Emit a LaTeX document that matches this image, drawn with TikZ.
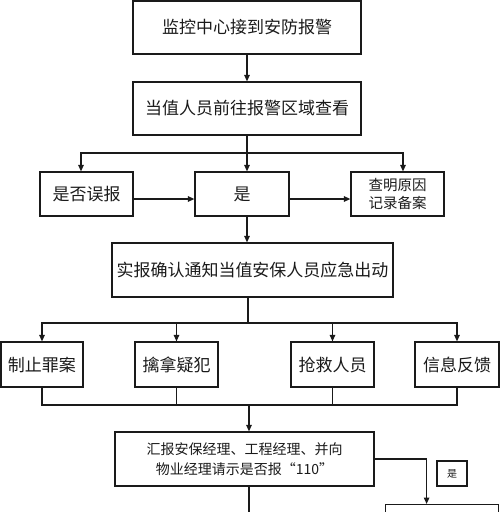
\documentclass[tikz,border=0pt]{standalone}
\usepackage{fontspec}
\newfontfamily\cjk{Noto Sans CJK SC}
\usetikzlibrary{positioning,arrows.meta,calc}
\definecolor{inkBlack}{HTML}{1a1a1a}

\begin{document}
\begin{tikzpicture}[x=1pt,y=-1pt,
  flowBox/.style={draw=inkBlack,line width=1.2pt,inner sep=2pt,align=center,
    font=\cjk\fontsize{17}{20}\selectfont,text=inkBlack},
  arr/.style={draw=inkBlack,line width=1.2pt,-{Triangle[length=6.5pt,width=5.5pt]}},
  link/.style={draw=inkBlack,line width=1.2pt}]
\useasboundingbox (0,0) rectangle (500,512);
\clip (0,0) rectangle (500,512);

% main chain
\node[flowBox,minimum width=228pt,minimum height=53pt] (alarm) at (247,27.5) {监控中心接到安防报警};
\node[flowBox,minimum width=228pt,minimum height=53pt] (patrol) at (247,108.5) {当值人员前往报警区域查看};

\node[flowBox,minimum width=93pt,minimum height=44pt] (falseAlarm) at (86.5,194) {是否误报};
\node[flowBox,minimum width=94pt,minimum height=44pt] (confirmed) at (242,194) {是};
\node[flowBox,minimum width=93pt,minimum height=44pt,
      font=\cjk\fontsize{14.5}{18}\selectfont] (recordCase) at (397.5,194) {查明原因\\记录备案};

\node[flowBox,minimum width=281pt,minimum height=54pt] (dispatch) at (252.5,270) {实报确认通知当值安保人员应急出动};

% actions
\node[flowBox,minimum width=82pt,minimum height=45pt] (stopCrime) at (42,364.5) {制止罪案};
\node[flowBox,minimum width=83pt,minimum height=45pt] (catchSuspect) at (176.5,364.5) {擒拿疑犯};
\node[flowBox,minimum width=83pt,minimum height=45pt] (rescue) at (332.5,364.5) {抢救人员};
\node[flowBox,minimum width=84pt,minimum height=45pt] (feedback) at (457,364.5) {信息反馈};

\node[flowBox,minimum width=259pt,minimum height=54pt,
      font=\cjk\fontsize{14}{20}\selectfont] (report) at (244.5,459) {汇报安保经理、工程经理、并向\\物业经理请示是否报“110”};
\node[flowBox,minimum width=30pt,minimum height=25pt,
      font=\cjk\fontsize{10}{12}\selectfont] (yesLabel) at (452,473.5) {是};
\node[flowBox,minimum width=113pt,minimum height=50pt,anchor=north west] (callPolice) at (385,504) {};

\coordinate (split1) at (247,153);
\coordinate (split2) at (248,323);
\coordinate (join) at (249,405);
\coordinate (nextStep) at (249,530);

\draw[arr] (alarm) -- (patrol);
\draw[link] (patrol.south) -- (split1);
\draw[arr] (split1) -| ([xshift=-5.5pt]falseAlarm.north);
\draw[arr] (split1) -- ([xshift=5pt]confirmed.north);
\draw[arr] (split1) -| ([xshift=5.5pt]recordCase.north);
\draw[arr] ([yshift=-5pt]falseAlarm.east) -- ([yshift=-5pt]confirmed.west);
\draw[arr] ([yshift=-5pt]confirmed.east) -- ([yshift=-5pt]recordCase.west);
\draw[arr] ([xshift=5pt]confirmed.south) -- ([xshift=5pt]confirmed.south |- dispatch.north);

\draw[link] (split2 |- dispatch.south) -- (split2);
\foreach \n in {stopCrime,catchSuspect,rescue,feedback}{
  \draw[arr] (split2) -| (\n.north);
  \draw[link] (\n.south) |- (join);
}
\draw[arr] (join) -- (join |- report.north);

\draw[arr] (report.east) -| ([xshift=-15.5pt]callPolice.north);
\draw[link] (join |- report.south) -- (nextStep);
\end{tikzpicture}
\end{document}
